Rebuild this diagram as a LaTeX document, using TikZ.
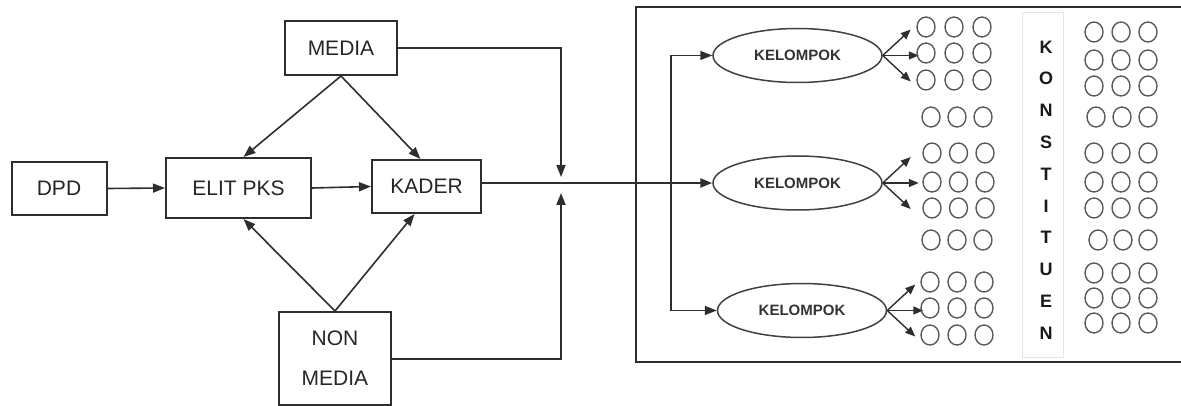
\documentclass[tikz,border=0pt]{standalone}
\usepackage{fontspec}
\setmainfont{Liberation Sans}
\usetikzlibrary{arrows.meta,shapes.geometric}
\begin{document}
\begin{tikzpicture}[x=1pt,y=-1pt,
  line/.style={draw=black!82, line width=1.6pt},
  arr/.style={line, -{Triangle[length=12pt,width=9pt]}},
  farr/.style={line, line width=1.4pt, -{Triangle[length=10pt,width=8pt]}},
  box/.style={draw=black!82, line width=2pt, inner sep=0pt, text=black!85, font=\fontsize{21}{24}\selectfont},
  grp/.style={ellipse, draw=black!75, line width=1.5pt, minimum width=169pt, minimum height=54pt, inner sep=0pt, text=black!80, font=\bfseries\fontsize{15}{18}\selectfont},
  dot/.style={draw=black!65, line width=1.4pt}]
\useasboundingbox (0,0) rectangle (1181,406);

% left boxes
\node[box, minimum width=95pt, minimum height=53pt] (dpd) at (59,188.5) {DPD};
\node[box, minimum width=145pt, minimum height=60pt] (elit) at (238.5,188) {ELIT PKS};
\node[box, minimum width=109pt, minimum height=53pt] (kader) at (426.5,186.5) {KADER};
\node[box, minimum width=112pt, minimum height=54pt] (media) at (341,48) {MEDIA};
\node[box, minimum width=112pt, minimum height=93pt, align=center, font=\fontsize{21}{40}\selectfont] (nonmedia) at (335,358.5) {NON\\MEDIA};

\draw[arr] (dpd.east) -- (elit.west);
\draw[arr] (elit.east) -- (kader.west);
\draw[arr] (media.south) -- ([xshift=5pt]elit.north);
\draw[arr] (media.south) -- ([xshift=-6pt]kader.north);
\draw[arr] (nonmedia.north) -- ([xshift=5pt]elit.south);
\draw[arr] (nonmedia.north) -- ([xshift=-12pt]kader.south);

\coordinate (J) at (561,183);
\draw[arr] (media.east) -| ([yshift=6pt]J);
\draw[arr, line width=2pt] (nonmedia.east) -| ([yshift=-10pt]J);

% right panel
\draw[draw=black!82, line width=2pt] (1190,7) -- (636,7) -- (636,362) -- (1190,362);
\node[draw=black!10, line width=1pt, minimum width=41pt, minimum height=344pt, inner sep=0pt] (strip) at (1042.5,185) {};
\node[align=center, inner sep=0pt, text=black!90, font=\bfseries\fontsize{18}{31.8}\selectfont] (konst) at (1046,190) {K\\O\\N\\S\\T\\I\\T\\U\\E\\N};

\node[grp] (k1) at (797.5,55.5) {KELOMPOK};
\node[grp] (k2) at (797.5,183) {KELOMPOK};
\node[grp] (k3) at (802,310.5) {KELOMPOK};

\draw[line, line width=2.4pt, -{Triangle[length=12pt,width=9pt]}] ([yshift=3.5pt]kader.east) -- (k2.west);
\coordinate (V) at (671,183);
\draw[arr] (V) |- (k1.west);
\draw[arr] (V) |- (k3.west);

\foreach \k in {k1,k2,k3}{
  \path (\k.east) ++(28,-26) coordinate (\k u);
  \path (\k.east) ++(36,0) coordinate (\k m);
  \path (\k.east) ++(28,26) coordinate (\k d);
  \draw[farr] (\k.east) -- (\k u);
  \draw[farr] (\k.east) -- (\k m);
  \draw[farr] (\k.east) -- (\k d);
}

% circles
\foreach \y/\x/\s in {27/926/28, 53/926/28, 80/926/28, 117/931/26, 153/932/26.5, 182/932/26.5, 208/932/26.5, 240/931/26, 282/930/27, 308/930/27, 335/930/27,
  32/1094/27, 60/1094/27, 86/1094/27, 117/1096/26, 153/1094/27, 182/1094/27, 208/1094/27, 240/1098/25, 273/1094/27, 298/1094/27, 323/1094/27}{
  \foreach \i in {0,1,2}{
    \draw[dot] (\x+\s*\i,\y) ellipse [x radius=9pt, y radius=10pt];
  }
}
\end{tikzpicture}
\end{document}
